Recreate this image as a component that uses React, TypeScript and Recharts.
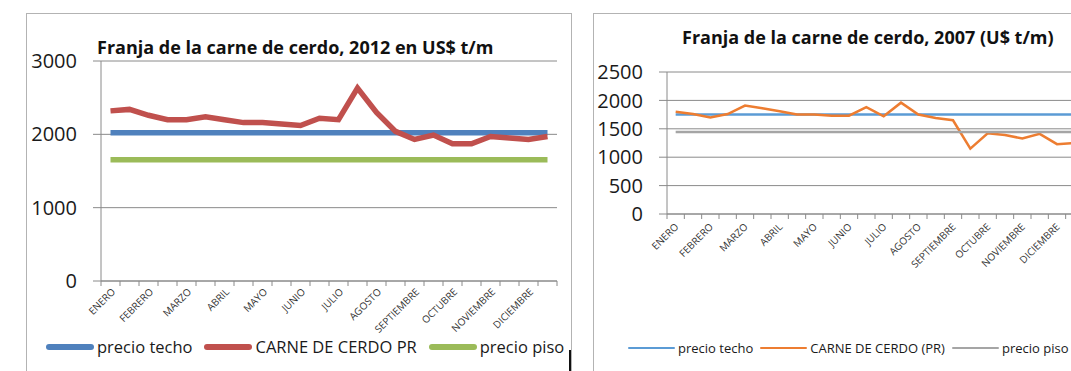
import React from "react";
import { LineChart, Line, XAxis, YAxis, CartesianGrid } from "recharts";

// ---------- data ----------
const months = [
  "ENERO", "FEBRERO", "MARZO", "ABRIL", "MAYO", "JUNIO",
  "JULIO", "AGOSTO", "SEPTIEMBRE", "OCTUBRE", "NOVIEMBRE", "DICIEMBRE",
];
// two observations per month (first and second half)
const halves = ["I", "II"];

const carne2012 = [
  2320, 2340, 2260, 2200, 2200, 2240, 2200, 2160, 2160, 2140, 2120, 2220,
  2200, 2630, 2300, 2040, 1930, 1990, 1870, 1870, 1970, 1950, 1930, 1970,
];
const techo2012 = 2020;
const piso2012 = 1655;

const carne2007 = [
  1800, 1760, 1700, 1760, 1910, 1860, 1810, 1750, 1750, 1730, 1730, 1880,
  1720, 1960, 1750, 1690, 1650, 1150, 1420, 1390, 1330, 1410, 1230, 1250,
];
const techo2007 = 1750;
const piso2007 = 1445;

const yTicks2012 = [0, 1000, 2000, 3000];
const yTicks2007 = [0, 500, 1000, 1500, 2000, 2500];

const title2012 = "Franja de la carne de cerdo, 2012 en US$ t/m";
const title2007 = "Franja de la carne de cerdo, 2007 (U$ t/m)";
const legend2012 = ["precio techo", "CARNE DE CERDO PR", "precio piso"];
const legend2007 = ["precio techo", "CARNE DE CERDO (PR)", "precio piso"];

const periods = months.flatMap((m) => halves.map((h) => `${m} ${h}`));

const data2012 = periods.map((p, i) => ({
  period: p,
  month: i % 2 === 0 ? months[i / 2] : "",
  techo: techo2012,
  carne: carne2012[i],
  piso: piso2012,
}));
const data2007 = periods.map((p, i) => ({
  period: p,
  month: i % 2 === 0 ? months[i / 2] : "",
  techo: techo2007,
  carne: carne2007[i],
  piso: piso2007,
}));

const FONT = "'Open Sans', 'DejaVu Sans', sans-serif";
const AXIS_GRAY = "#8a8a8a";

function makeTick(data: any[], half: number, fontSize: number, dx: number, dy: number) {
  return (props: any) => {
    const { x, y, payload } = props;
    const index = payload?.index ?? props.index ?? 0;
    const label = data[index]?.month ?? "";
    const tx = x + dx;
    const ty = y + dy;
    return (
      <g>
        <line x1={x - half} y1={y} x2={x - half} y2={y + 5} stroke={AXIS_GRAY} strokeWidth={1} />
        {index === data.length - 1 ? (
          <line x1={x + half} y1={y} x2={x + half} y2={y + 5} stroke={AXIS_GRAY} strokeWidth={1} />
        ) : null}
        {label ? (
          <g transform={`translate(${tx}, ${ty}) rotate(-45)`}>
            <text
              x={0}
              y={0}
              textAnchor="end"
              dy="0.35em"
              fontSize={fontSize}
              fontFamily={FONT}
              fill="#333"
            >
              {label}
            </text>
          </g>
        ) : null}
      </g>
    );
  };
}

function LegendRow({
  items,
  colors,
  left,
  top,
  lineW,
  lineH,
  fontSize,
  gap,
}: {
  items: string[];
  colors: string[];
  left: number;
  top: number;
  lineW: number;
  lineH: number;
  fontSize: number;
  gap: number;
}) {
  return (
    <div
      style={{
        position: "absolute",
        left,
        top,
        display: "flex",
        alignItems: "center",
        whiteSpace: "nowrap",
        fontFamily: FONT,
        fontSize,
        color: "#1a1a1a",
        lineHeight: "20px",
      }}
    >
      {items.map((t, i) => (
        <div key={t} style={{ display: "flex", alignItems: "center", marginRight: gap }}>
          <div style={{ width: lineW, height: lineH, background: colors[i], borderRadius: lineH / 2, marginRight: 3 }} />
          <span>{t}</span>
        </div>
      ))}
    </div>
  );
}

const c2012 = ["#4f81bd", "#c0504d", "#9bbb59"];
const c2007 = ["#5b9bd5", "#ed7d31", "#a5a5a5"];

export default function App() {
  // left chart: plot area x 101..557, y 61..281
  const leftHalf = 456 / 24 / 2;
  // right chart: plot area x 667..1083, y 72..214
  const rightHalf = 416 / 24 / 2;
  return (
    <div
      style={{
        position: "fixed",
        left: 0,
        top: 0,
        width: 1071,
        height: 371,
        overflow: "hidden",
        background: "#ffffff",
      }}
    >
      {/* panel frames */}
      <div style={{ position: "absolute", left: 26, top: 13, width: 544, height: 420, border: "1px solid #b3b3b3" }} />
      <div style={{ position: "absolute", left: 593, top: 13, width: 560, height: 420, border: "1px solid #b3b3b3" }} />
      <div style={{ position: "absolute", left: 569, top: 350, width: 2, height: 21, background: "#111" }} />

      {/* left chart */}
      <div style={{ position: "absolute", left: 0, top: 0 }}>
        <LineChart width={571} height={371} data={data2012} margin={{ top: 61, right: 14, bottom: 0, left: 0 }}>
          <CartesianGrid vertical={false} stroke={AXIS_GRAY} strokeWidth={1} />
          <XAxis
            dataKey="period"
            interval={0}
            height={90}
            padding={{ left: leftHalf, right: leftHalf }}
            axisLine={{ stroke: AXIS_GRAY }}
            tickLine={false}
            tickSize={0}
            tickMargin={0}
            tick={makeTick(data2012, leftHalf, 10, 3, 9)}
          />
          <YAxis
            width={101}
            domain={[0, 3000]}
            ticks={yTicks2012}
            interval={0}
            axisLine={{ stroke: AXIS_GRAY }}
            tickLine={{ stroke: AXIS_GRAY }}
            tickSize={8}
            tickMargin={16}
            tick={{ fontSize: 20, fill: "#1a1a1a", fontFamily: FONT }}
          />
          <Line dataKey="techo" stroke={c2012[0]} strokeWidth={5.5} dot={false} isAnimationActive={false} />
          <Line dataKey="carne" stroke={c2012[1]} strokeWidth={5.5} dot={false} isAnimationActive={false} />
          <Line dataKey="piso" stroke={c2012[2]} strokeWidth={5.5} dot={false} isAnimationActive={false} />
        </LineChart>
      </div>
      <div
        style={{
          position: "absolute",
          left: 97,
          top: 35,
          fontFamily: FONT,
          fontWeight: 700,
          fontSize: 18,
          lineHeight: "24px",
          color: "#111",
          whiteSpace: "nowrap",
        }}
      >
        {title2012}
      </div>
      <LegendRow items={legend2012} colors={c2012} left={46} top={337} lineW={48} lineH={6} fontSize={16.5} gap={12} />

      {/* right chart */}
      <div style={{ position: "absolute", left: 594, top: 0 }}>
        <LineChart width={501} height={371} data={data2007} margin={{ top: 72, right: 12, bottom: 0, left: 0 }}>
          <CartesianGrid vertical={false} stroke={AXIS_GRAY} strokeWidth={1} />
          <XAxis
            dataKey="period"
            interval={0}
            height={157}
            padding={{ left: rightHalf, right: rightHalf }}
            axisLine={{ stroke: AXIS_GRAY }}
            tickLine={false}
            tickSize={0}
            tickMargin={0}
            tick={makeTick(data2007, rightHalf, 10, 1, 11)}
          />
          <YAxis
            width={73}
            domain={[0, 2500]}
            ticks={yTicks2007}
            interval={0}
            axisLine={{ stroke: AXIS_GRAY }}
            tickLine={{ stroke: AXIS_GRAY }}
            tickSize={8}
            tickMargin={16}
            tick={{ fontSize: 20, fill: "#1a1a1a", fontFamily: FONT }}
          />
          <Line dataKey="techo" stroke={c2007[0]} strokeWidth={2.5} dot={false} isAnimationActive={false} />
          <Line dataKey="carne" stroke={c2007[1]} strokeWidth={2.5} dot={false} isAnimationActive={false} />
          <Line dataKey="piso" stroke={c2007[2]} strokeWidth={2.5} dot={false} isAnimationActive={false} />
        </LineChart>
      </div>
      <div
        style={{
          position: "absolute",
          left: 682,
          top: 25,
          fontFamily: FONT,
          fontWeight: 700,
          fontSize: 18,
          lineHeight: "24px",
          color: "#111",
          whiteSpace: "nowrap",
        }}
      >
        {title2007}
      </div>
      <LegendRow items={legend2007} colors={c2007} left={628} top={338} lineW={47} lineH={2.5} fontSize={13} gap={7} />
    </div>
  );
}
